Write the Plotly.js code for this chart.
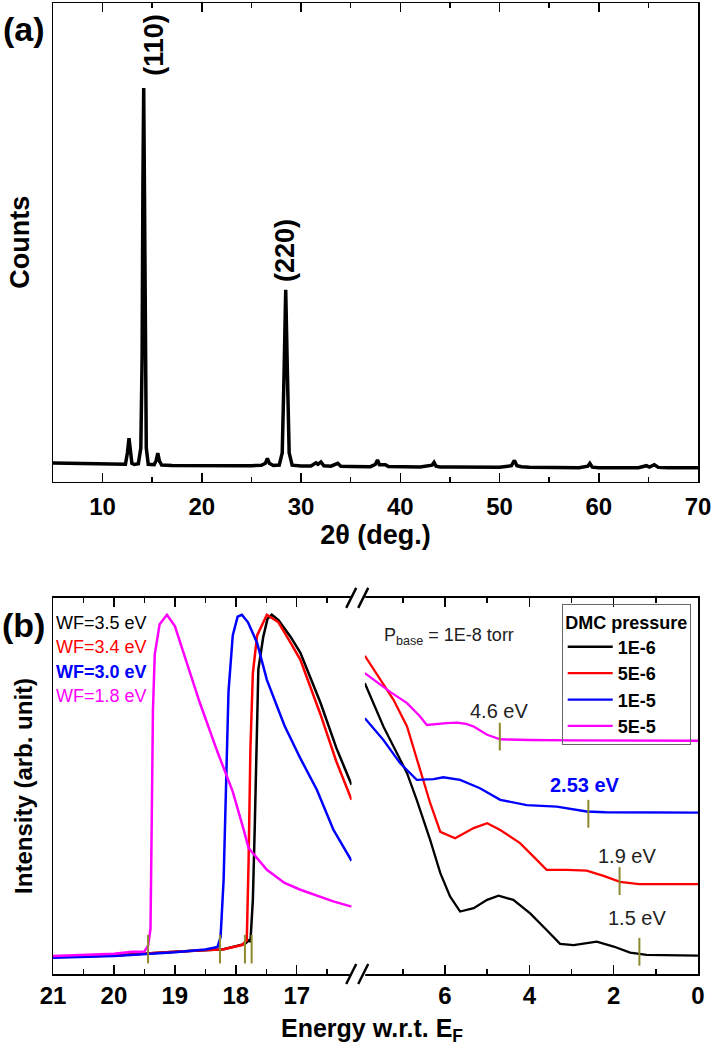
<!DOCTYPE html>
<html><head><meta charset="utf-8">
<script src="https://cdn.plot.ly/plotly-3.0.1.min.js"></script>
<style>html,body{margin:0;padding:0;background:#fff;} #chart{width:713px;height:1049px;}</style>
</head><body><div id="chart"></div>
<script>
// ---------- Panel (a): XRD ----------
const xrdAngle = [5.0,6.0,7.0,8.0,9.0,10.0,11.0,12.0,12.3,12.5,12.66,12.8,12.95,13.2,13.6,13.85,13.98,14.06,14.14,14.22,14.3,14.4,14.6,15.2,15.4,15.56,15.72,15.95,17.0,18.0,19.0,20.0,21.0,22.0,23.0,24.0,25.0,26.0,26.4,26.6,26.8,27.2,27.8,28.1,28.28,28.45,28.62,28.8,29.1,30.0,31.0,31.5,31.7,32.0,32.3,33.0,33.7,34.0,35.0,36.0,37.0,37.5,37.7,37.9,38.5,38.8,39.5,40.5,41.0,42.0,43.2,43.4,43.6,44.0,45.0,46.0,47.0,48.0,49.0,50.0,51.2,51.5,51.75,52.2,53.0,54.0,55.0,56.0,57.0,58.0,58.9,59.1,59.35,60.0,61.0,62.0,63.0,64.0,64.8,65.1,65.6,66.0,67.0,68.0,69.0,70.0];
const xrdCounts = [385,380,375,370,365,360,355,352,360,600,907,650,380,355,370,700,2600,6200,8223,6000,2400,700,360,350,440,594,430,345,335,332,330,340,330,330,328,330,330,338,380,480,380,335,345,600,2200,4007,2300,600,340,322,325,390,360,410,330,320,380,320,315,312,310,360,450,350,350,312,308,320,305,305,340,400,320,305,303,302,300,300,300,298,330,440,330,310,296,295,294,292,292,290,320,380,300,288,290,288,287,288,330,300,350,295,286,286,286,286];
const peakLabels = ['(110)','(220)'];
const peakLabelX = [15.1, 28.45];
const peakLabelY = [9130, 4830];

// ---------- Panel (b): UPS, cutoff region (left) ----------
const blackCutE = [21,20,19,18.2,17.85,17.78,17.76,17.72,17.69,17.63,17.55,17.48,17.41,17.3,17.1,16.94,16.61,16.35,16.1];
const blackCutI = [4.5,4.9,5.9,6.6,8.0,9.0,8.5,19.7,38.3,80.9,89.6,94.4,95.5,94.1,89.6,85.4,72.1,60.1,50.3];
const redCutE = [21,20,19,18.2,17.9,17.82,17.79,17.76,17.72,17.65,17.49,17.3,17.1,16.94,16.61,16.35,16.1];
const redCutI = [4.5,4.9,5.9,6.6,7.7,9.0,30,60,80,90,95.5,93.5,88,83.5,69,56.5,46.3];
const blueCutE = [21,20,19,18.5,18.3,18.25,18.2,18.16,18.12,18.05,17.97,17.9,17.8,17.65,17.49,17.2,16.94,16.67,16.4,16.1];
const blueCutI = [4.3,4.8,5.8,6.5,7.2,9.8,25,50,75,90,95,95.5,93.5,88,78.2,66,57.3,49,38.4,30.1];
const magCutE = [21,20,19.7,19.5,19.44,19.4,19.38,19.36,19.33,19.25,19.13,19.0,18.8,18.59,18.3,18.05,17.87,17.79,17.49,17.2,16.94,16.4,16.1];
const magCutI = [4.8,5.4,5.9,6.0,7.5,12,40,70,85,93,95.5,92.5,82.5,72.1,59,48.5,38.3,33.5,27.7,24.2,22.4,19.3,17.9];

// ---------- Panel (b): valence region (right) ----------
const blackValE = [7.9,7.7,7.46,7.22,6.9,6.67,6.35,6.11,5.88,5.64,5.32,5.0,4.73,4.38,3.98,3.59,3.27,2.95,2.4,2.0,1.61,1.22,0];
const blackValI = [77.3,72.0,65.8,60.5,53.4,46.3,35.6,26.8,20.6,16.6,17.5,19.7,20.8,19.7,16.1,11.7,8.0,7.7,8.6,7.3,5.7,5.1,4.9];
const redValE = [7.9,7.53,7.22,6.9,6.59,6.35,6.11,5.76,5.32,5.0,4.69,4.22,3.9,3.59,3.11,2.64,2.24,1.85,1.4,0];
const redValI = [84.6,78.2,72.9,65.8,54.3,45.4,37.8,36.1,38.8,40.1,38.3,34.8,31.2,27.7,27.7,27.5,26.1,24.5,23.9,23.9];
const blueValE = [7.9,7.46,7.06,6.67,6.27,6.04,5.64,5.17,4.69,4.06,3.35,2.64,2.2,1.0,0];
const blueValI = [68.0,62.2,56.0,51.6,51.8,52.3,51.6,49.4,46.3,44.9,44.5,43.2,43.0,42.9,42.9];
const magValE = [7.9,7.6,7.3,6.9,6.6,6.43,6.2,5.96,5.72,5.5,5.32,5.0,4.69,4.3,4.0,3.0,2.0,1.0,0];
const magValI = [80.0,77.4,75.0,72.0,68.6,66.2,66.5,66.7,66.8,66.5,65.8,63.6,62.4,62.2,62.2,62.1,62.0,62.0,62.0];

const seriesNames = ['1E-6','5E-6','1E-5','5E-5'];
const seriesColors = ['#000000','#ff0000','#0000ff','#ff00ff'];
const wfLabels = ['WF=3.5 eV','WF=3.4 eV','WF=3.0 eV','WF=1.8 eV'];
const wfBold = [false,false,true,false];
const wfLabelY = [93.3,86.9,80.4,73.8];
const cutoffMarkE = [17.74,17.85,18.26,19.44];
const cutoffMarkY = [6.6,6.6,6.6,6.6];
const onsetLabels = ['1.5 eV','1.9 eV','2.53 eV','4.6 eV'];
const onsetMarkE = [1.39,1.86,2.60,4.70];
const onsetMarkY = [5.9,24.7,42.6,63.1];
const onsetLabelE = [1.45,1.69,2.68,4.73];
const onsetLabelY = [14.8,31.4,50.3,69.8];
const onsetBold = [false,false,true,false];
const onsetColor = ['#222222','#222222','#0000ff','#222222'];

const FONT = 'Liberation Sans, Arial, sans-serif';
const cutE = [blackCutE, redCutE, blueCutE, magCutE];
const cutI = [blackCutI, redCutI, blueCutI, magCutI];
const valE = [blackValE, redValE, blueValE, magValE];
const valI = [blackValI, redValI, blueValI, magValI];

const traces = [{
  x: xrdAngle, y: xrdCounts, xaxis:'x', yaxis:'y', type:'scatter', mode:'lines',
  line:{color:'#000', width:3.5}, showlegend:false
}];
for (let i=0;i<4;i++){
  traces.push({x:cutE[i], y:cutI[i], xaxis:'x2', yaxis:'y2', type:'scatter', mode:'lines',
    line:{color:seriesColors[i], width:2.5}, legendgroup:seriesNames[i], showlegend:false, name:seriesNames[i]});
}
for (let i=0;i<4;i++){
  traces.push({x:valE[i], y:valI[i], xaxis:'x3', yaxis:'y3', type:'scatter', mode:'lines',
    line:{color:seriesColors[i], width:2.3}, legendgroup:seriesNames[i], showlegend:true, name:seriesNames[i]});
}

const shapes = [];
const olive = '#8c8a2c';
for (let i=0;i<4;i++){
  shapes.push({type:'line', xref:'x2', yref:'y2', x0:cutoffMarkE[i], x1:cutoffMarkE[i], y0:cutoffMarkY[i]-3.8, y1:cutoffMarkY[i]+3.8, line:{color:olive, width:2}});
  shapes.push({type:'line', xref:'x3', yref:'y3', x0:onsetMarkE[i], x1:onsetMarkE[i], y0:onsetMarkY[i]-3.7, y1:onsetMarkY[i]+3.7, line:{color:olive, width:2}});
}
const gapX = (0.4629+0.4835)/2;
[0, 0.3874].forEach(yy=>{
  shapes.push({type:'rect', xref:'paper', yref:'paper', xsizemode:'pixel', ysizemode:'pixel', xanchor:gapX, yanchor:yy, x0:-7, x1:7, y0:-3, y1:3, fillcolor:'#fff', line:{width:0}});
  shapes.push({type:'line', xref:'paper', yref:'paper', xsizemode:'pixel', ysizemode:'pixel', xanchor:gapX, yanchor:yy, x0:-12, x1:-2, y0:-10, y1:10, line:{color:'#000', width:2.5}});
  shapes.push({type:'line', xref:'paper', yref:'paper', xsizemode:'pixel', ysizemode:'pixel', xanchor:gapX, yanchor:yy, x0:0, x1:10, y0:-10, y1:10, line:{color:'#000', width:2.5}});
});

const ann = [];
ann.push({text:'(a)', xref:'paper', yref:'paper', x:-0.045, y:0.9735, showarrow:false, font:{family:FONT, size:34, weight:700, color:'#000'}, xanchor:'center', yanchor:'middle'});
ann.push({text:'(b)', xref:'paper', yref:'paper', x:-0.045, y:0.3595, showarrow:false, font:{family:FONT, size:34, weight:700, color:'#000'}, xanchor:'center', yanchor:'middle'});
for (let i=0;i<2;i++){
  ann.push({text:peakLabels[i], xref:'x', yref:'y', x:peakLabelX[i], y:peakLabelY[i], textangle:-90, showarrow:false, font:{family:FONT, size:27, weight:700, color:'#000'}});
}
for (let i=0;i<4;i++){
  ann.push({text:wfLabels[i], xref:'x2', yref:'y2', x:21, y:wfLabelY[i], xanchor:'left', xshift:1, showarrow:false, font:{family:FONT, size:18, weight: wfBold[i]?700:400, color:seriesColors[i]}});
  ann.push({text:onsetLabels[i], xref:'x3', yref:'y3', x:onsetLabelE[i], y:onsetLabelY[i], showarrow:false, font:{family:FONT, size:20, weight: onsetBold[i]?700:400, color:onsetColor[i]}});
}
ann.push({text:'P<sub>base</sub> = 1E-8 torr', xref:'x3', yref:'y3', x:7.5, y:89.7, xanchor:'left', showarrow:false, font:{family:FONT, size:18, color:'#222'}});
ann.push({text:'Energy w.r.t. E<sub>F</sub>', xref:'paper', yref:'paper', x:0.494, y:-0.0577, xanchor:'center', yanchor:'middle', showarrow:false, font:{family:FONT, size:25, weight:700, color:'#000'}});

const axLine = {showline:true, linecolor:'#000', linewidth:1.5, showgrid:false, zeroline:false};
const tickFont = {family:FONT, size:24, weight:700, color:'#000'};

const layout = {
  width:713, height:1049,
  margin:{l:53, r:15, t:3, b:75},
  paper_bgcolor:'#fff', plot_bgcolor:'#fff',
  font:{family:FONT, color:'#000'},
  xaxis: Object.assign({}, axLine, {domain:[0,1], anchor:'y', range:[5,70], tickvals:[10,20,30,40,50,60,70], ticks:'inside', ticklen:9, tickwidth:1.5, tickcolor:'#000', mirror:'ticks',
    minor:{tickvals:[5,15,25,35,45,55,65], ticks:'inside', ticklen:5, tickwidth:1.5, tickcolor:'#000'}, ticklabelstandoff:3,
    tickfont:tickFont, title:{text:'2θ (deg.)', font:{family:FONT, size:27, weight:700}, standoff:0}}),
  yaxis: Object.assign({}, axLine, {domain:[0.5072,1], anchor:'x', range:[0,10000], ticks:'', showticklabels:false, mirror:true,
    title:{text:'Counts', font:{family:FONT, size:27, weight:700}, standoff:14}}),
  xaxis2: Object.assign({}, axLine, {domain:[0,0.4629], anchor:'y2', range:[21,16.1], tickvals:[21,20,19,18,17], ticks:'inside', ticklen:9, tickwidth:1.5, tickcolor:'#000', mirror:'ticks',
    minor:{tickvals:[20.5,19.5,18.5,17.5,16.5], ticks:'inside', ticklen:5, tickwidth:1.5, tickcolor:'#000'}, tickfont:tickFont}),
  xaxis3: Object.assign({}, axLine, {domain:[0.4835,1], anchor:'y3', range:[7.9,0], tickvals:[6,4,2,0], ticks:'inside', ticklen:9, tickwidth:1.5, tickcolor:'#000', mirror:'ticks',
    minor:{tickvals:[7,5,3,1], ticks:'inside', ticklen:5, tickwidth:1.5, tickcolor:'#000'}, tickfont:tickFont}),
  yaxis2: Object.assign({}, axLine, {domain:[0,0.3874], anchor:'x2', range:[0,100], ticks:'', showticklabels:false,
    title:{text:'Intensity (arb. unit)', font:{family:FONT, size:24, weight:700}, standoff:12}}),
  yaxis3: Object.assign({}, axLine, {domain:[0,0.3874], anchor:'x3', side:'right', range:[0,100], ticks:'', showticklabels:false}),
  legend:{x:0.9887, xanchor:'right', y:0.3809, yanchor:'top', bordercolor:'#666', borderwidth:1, bgcolor:'rgba(255,255,255,0)',
    font:{family:FONT, size:18, weight:700, color:'#000'}, tracegroupgap:0, itemwidth:45,
    title:{text:'DMC pressure', side:'top center', font:{family:FONT, size:18, weight:700, color:'#000'}}},
  shapes: shapes,
  annotations: ann
};
Plotly.newPlot('chart', traces, layout, {staticPlot:true, displayModeBar:false});
</script></body></html>
